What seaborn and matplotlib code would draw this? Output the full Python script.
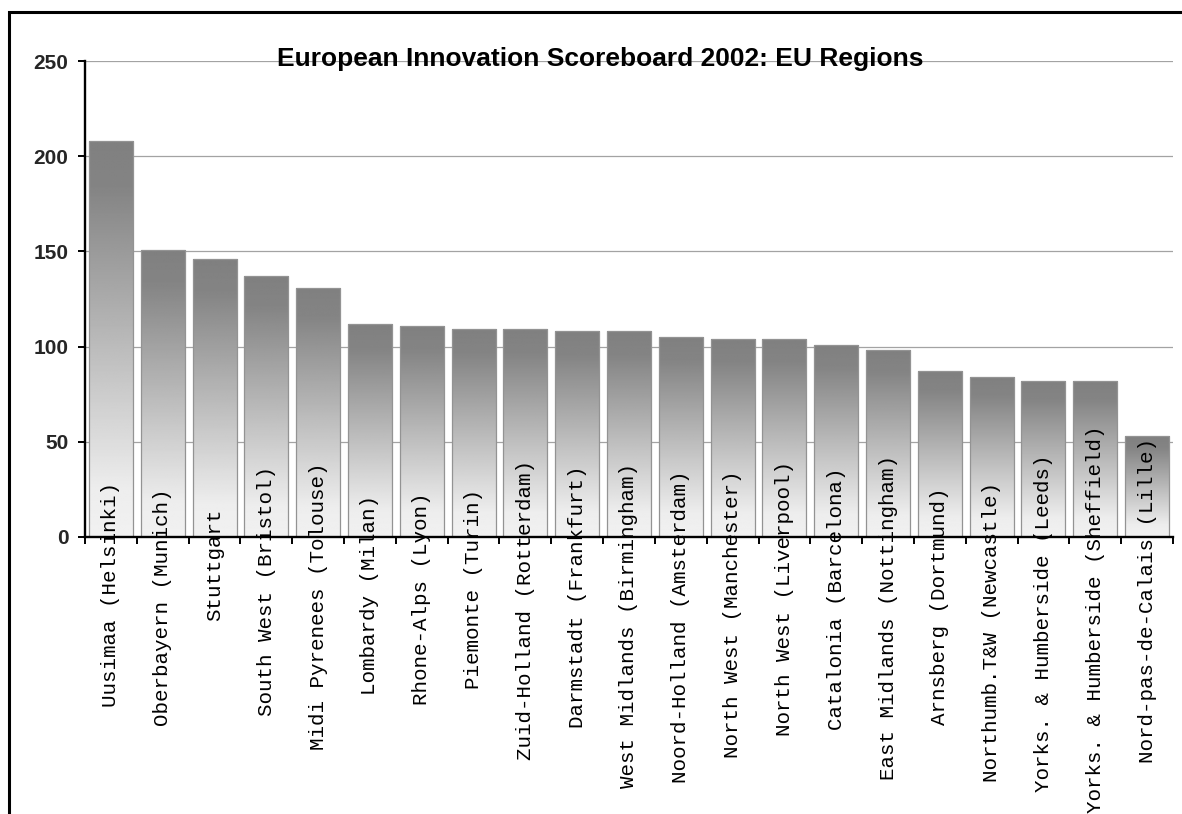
import numpy as np
import pandas as pd
import matplotlib
matplotlib.use("Agg")
import matplotlib.pyplot as plt
import seaborn as sns
from matplotlib.patches import Rectangle
from matplotlib.transforms import offset_copy
from matplotlib.font_manager import FontProperties

# Data
regions = [
    "Uusimaa (Helsinki)", "Oberbayern (Munich)", "Stuttgart", "South West (Bristol)",
    "Midi Pyrenees (Tolouse)", "Lombardy (Milan)", "Rhone-Alps (Lyon)", "Piemonte (Turin)",
    "Zuid-Holland (Rotterdam)", "Darmstadt (Frankfurt)", "West Midlands (Birmingham)",
    "Noord-Holland (Amsterdam)", "North West (Manchester)", "North West (Liverpool)",
    "Catalonia (Barcelona)", "East Midlands (Nottingham)", "Arnsberg (Dortmund)",
    "Northumb.T&W (Newcastle)", "Yorks. & Humberside (Leeds)",
    "Yorks. & Humberside (Sheffield)", "Nord-pas-de-Calais (Lille)",
]
scores = [208, 151, 146, 137, 131, 112, 111, 109, 109, 108, 108,
          105, 104, 104, 101, 98, 87, 84, 82, 82, 53]
y_ticks = [0, 50, 100, 150, 200, 250]
title = "European Innovation Scoreboard 2002: EU Regions"

sns.set_style("white")
plt.rcParams["font.family"] = ["Liberation Sans", "DejaVu Sans"]

W, H, DPI = 1182, 814, 100
fig = plt.figure(figsize=(W / DPI, H / DPI), dpi=DPI)
fig.patch.set_facecolor("white")

# Outer frame (open on the right and bottom edges)
fig.patches.append(Rectangle((8.5 / W, -0.1), 1.5, 1.1 - 12 / H,
                             transform=fig.transFigure, fill=False,
                             edgecolor="black", linewidth=2.2, zorder=0))

ax = fig.add_axes([85 / W, (H - 536.7) / H, 1088 / W, 475.4 / H])
ax.set_facecolor("none")

df = pd.DataFrame({"region": regions, "score": scores})
sns.barplot(data=df, x="region", y="score", width=0.85, color="#808080",
            saturation=1, ax=ax, zorder=2)

ax.set_xlim(-0.5, len(regions) - 0.5)
ax.set_ylim(y_ticks[0], y_ticks[-1])

# Vertical grey gradient inside each bar, dark at the top
prof_t = np.linspace(0, 1, 256)
prof_v = np.interp(prof_t, [0, 0.12, 0.88, 1.0], [0.50, 0.52, 0.93, 0.945])
grad = prof_v[:, None]
for p in list(ax.patches):
    x0, y0 = p.get_x(), p.get_y()
    w, h = p.get_width(), p.get_height()
    im = ax.imshow(grad, cmap="gray", vmin=0, vmax=1, aspect="auto",
                   extent=(x0, x0 + w, y0, y0 + h), origin="upper",
                   interpolation="bilinear", zorder=2)
    im.set_clip_path(p)
    p.set_facecolor("none")
    p.set_edgecolor("#939393")
    p.set_linewidth(0.9)
    p.set_zorder(2.5)

ax.set_xlim(-0.5, len(regions) - 0.5)
ax.set_ylim(y_ticks[0], y_ticks[-1])

# Axes styling
for side in ("top", "right"):
    ax.spines[side].set_visible(False)
for side in ("left", "bottom"):
    ax.spines[side].set_color("black")
    ax.spines[side].set_linewidth(1.7)
    ax.spines[side].set_zorder(4)

ax.set_axisbelow(True)
ax.yaxis.grid(True, color="#a3a3a3", linewidth=0.9)
ax.xaxis.grid(False)

ax.set_yticks(y_ticks)
ax.set_yticklabels([str(v) for v in y_ticks], fontsize=15, fontweight="bold",
                   family=["Liberation Sans", "DejaVu Sans"])
ax.tick_params(axis="y", length=5, width=1.4, direction="out", pad=7,
               color="black", left=True)

ax.set_xticks(np.arange(-0.5, len(regions), 1.0))
ax.set_xticklabels([])
ax.tick_params(axis="x", length=5, width=1.4, direction="out",
               color="black", bottom=True)
ax.set_xlabel("")
ax.set_ylabel("")

# Category labels: monospaced, vertical, each starting where a
# proportional-font label of the same text would begin below the axis
renderer = fig.canvas.get_renderer()
sans_prop = FontProperties(family="Liberation Sans", size=13.3)
for i, name in enumerate(regions):
    wpx, _, _ = renderer.get_text_width_height_descent(name, sans_prop, ismath=False)
    offset = wpx + 15
    trans = offset_copy(ax.get_xaxis_transform(), fig=fig, x=0, y=-offset, units="dots")
    ax.text(i, 0, name, transform=trans, rotation=90, ha="center", va="bottom",
            fontsize=15, family=["Liberation Mono", "DejaVu Sans Mono"],
            color="black", zorder=5, clip_on=False)

fig.text(600 / W, (H - 66) / H, title, ha="center", va="baseline",
         fontsize=19, fontweight="bold", color="black", zorder=6)

fig.savefig("out.png", dpi=DPI, facecolor="white")
